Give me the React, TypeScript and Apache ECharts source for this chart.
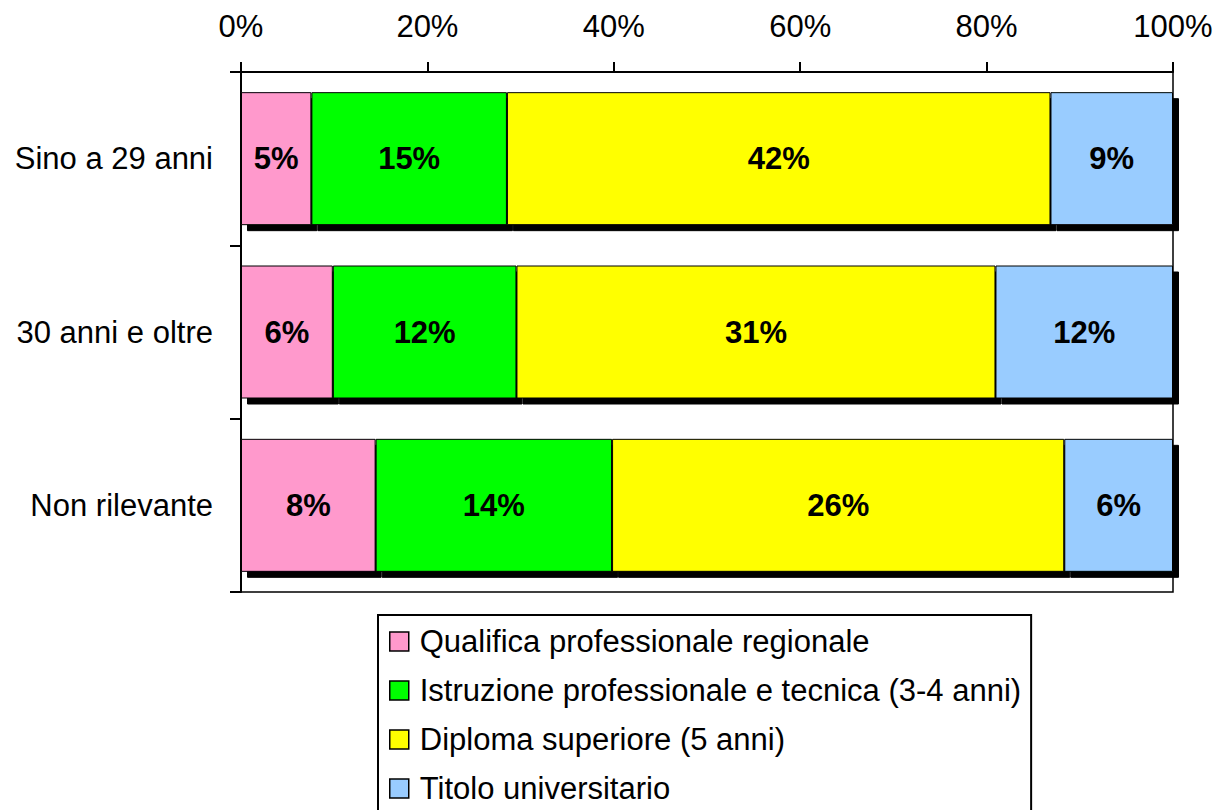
import React, { useEffect, useRef } from "react";
import * as echarts from "echarts";

const categories = ["Sino a 29 anni", "30 anni e oltre", "Non rilevante"];
const seriesNames = [
  "Qualifica professionale regionale",
  "Istruzione professionale e tecnica (3-4 anni)",
  "Diploma superiore (5 anni)",
  "Titolo universitario",
];
const qualifica = [5.4, 6.0, 7.8];
const istruzione = [15.0, 12.0, 13.7];
const diploma = [41.7, 31.3, 26.2];
const titolo = [9.4, 11.6, 6.3];
const xTicks = [0, 20, 40, 60, 80, 100];
const colors = ["#FF99CC", "#00FF00", "#FFFF00", "#99CCFF"];

const FONT = "'Liberation Sans', Arial, sans-serif";
const FS = 31;

export default function App() {
  const ref = useRef<HTMLDivElement>(null);
  useEffect(() => {
    if (!ref.current) return;
    const chart = echarts.init(ref.current, undefined, { renderer: "svg" });
    const raw = [qualifica, istruzione, diploma, titolo];
    const totals = categories.map((_, i) => raw.reduce((s, arr) => s + arr[i], 0));
    const series = raw.map((arr, si) => ({
      name: seriesNames[si],
      type: "bar",
      stack: "total",
      barWidth: 133,
      data: arr.map((v, i) => (v / totals[i]) * 100),
      itemStyle: {
        color: colors[si],
        borderColor: "#000",
        borderWidth: 1,
        shadowColor: "#000",
        shadowBlur: 0,
        shadowOffsetX: 6,
        shadowOffsetY: 6,
      },
      label: {
        show: true,
        position: "inside",
        color: "#000",
        fontFamily: FONT,
        fontWeight: "bold",
        fontSize: FS,
        formatter: (p: any) => Math.round(arr[p.dataIndex]) + "%",
      },
    }));
    chart.setOption({
      animation: false,
      backgroundColor: "#fff",
      textStyle: { fontFamily: FONT },
      grid: {
        left: 241,
        right: 45,
        top: 72,
        bottom: 1000 - 592,
        show: true,
        borderColor: "#000",
        borderWidth: 1.5,
      },
      legend: {
        orient: "vertical",
        left: 378,
        top: 615,
        padding: [11, 10, 20, 11],
        itemGap: 18,
        itemWidth: 19,
        itemHeight: 19,
        icon: "rect",
        borderColor: "#000",
        borderWidth: 2,
        data: seriesNames.map((n, i) => ({
          name: n,
          itemStyle: {
            color: colors[i],
            borderColor: "#000",
            borderWidth: 1.5,
            shadowBlur: 0,
            shadowOffsetX: 0,
            shadowOffsetY: 0,
            shadowColor: "transparent",
          },
        })),
        textStyle: {
          fontSize: FS,
          color: "#000",
          fontFamily: FONT,
          padding: [0, 0, 0, 6],
        },
      },
      xAxis: {
        type: "value",
        position: "top",
        min: xTicks[0],
        max: xTicks[xTicks.length - 1],
        interval: xTicks[1] - xTicks[0],
        axisLine: { show: true, lineStyle: { color: "#000", width: 2 } },
        axisTick: { show: true, length: 10, lineStyle: { color: "#000", width: 2 } },
        splitLine: { show: false },
        axisLabel: {
          formatter: "{value}%",
          fontSize: FS,
          color: "#000",
          fontFamily: FONT,
          margin: 30,
        },
      },
      yAxis: {
        type: "category",
        inverse: true,
        data: categories,
        axisLine: { show: true, lineStyle: { color: "#000", width: 2 } },
        axisTick: { show: true, length: 11, lineStyle: { color: "#000", width: 2 } },
        axisLabel: {
          fontSize: FS,
          color: "#000",
          fontFamily: FONT,
          margin: 28,
        },
      },
      series,
    });
    return () => chart.dispose();
  }, []);
  return (
    <div
      ref={ref}
      style={{ position: "fixed", left: 0, top: 0, width: 1218, height: 1000, background: "#fff" }}
    />
  );
}
